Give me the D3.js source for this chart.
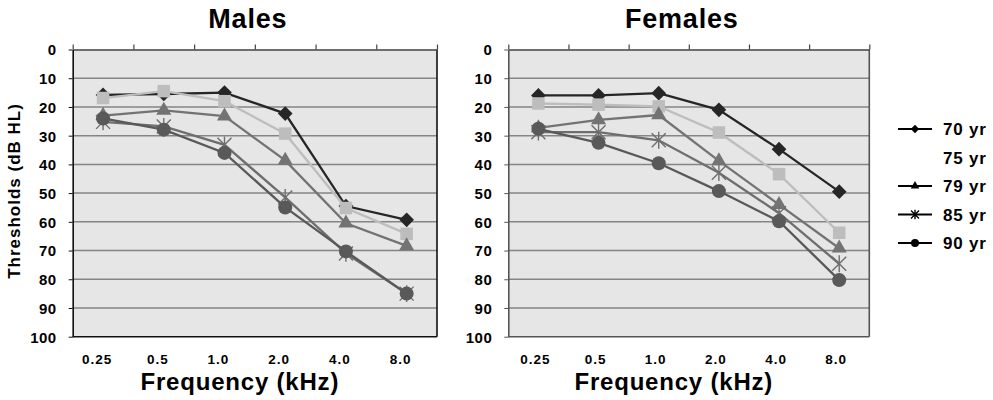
<!DOCTYPE html>
<html lang="en">
<head>
<meta charset="utf-8">
<title>Hearing thresholds by age</title>
<script src="https://cdnjs.cloudflare.com/ajax/libs/d3/7.8.5/d3.min.js"></script>
<style>
  body { margin: 0; background: #fff; }
  svg text { font-family: "Liberation Sans", Arial, sans-serif; font-weight: bold; fill: #000; }
</style>
</head>
<body>
<svg id="chart" width="993" height="400"></svg>
<script>
// data (dB HL, per frequency)
var freqs = ["0.25", "0.5", "1.0", "2.0", "4.0", "8.0"];
var ages = ["70 yr", "75 yr", "79 yr", "85 yr", "90 yr"];
var yTicks = [0, 10, 20, 30, 40, 50, 60, 70, 80, 90, 100];

var males70 = [15.8, 15.5, 15, 22.3, 54.5, 59.3];
var males75 = [16.9, 14.5, 18, 29.3, 55.2, 64.2];
var males79 = [23, 21.2, 23.2, 38.6, 60.5, 68.4];
var males85 = [25.2, 26.8, 33.2, 51.5, 71, 85];
var males90 = [24, 27.9, 36, 55, 70.3, 85];

var females70 = [16, 16, 15.2, 21, 34.7, 49.5];
var females75 = [18.8, 19.2, 19.8, 28.9, 43.4, 63.8];
var females79 = [27.3, 24.5, 22.8, 38.8, 54, 69.2];
var females85 = [28.8, 28.8, 31.6, 42.9, 57, 74.6];
var females90 = [27.6, 32.5, 39.6, 49.3, 59.8, 80.3];

var colors = ["#262626", "#bdbdbd", "#737373", "#6e6e6e", "#595959"];
var shapes = ["diamond", "square", "triangle", "star", "circle"];

var svg = d3.select("#chart");

// marker drawing
function marker(g, shape, x, y, col, s) {
  if (shape == "diamond") {
    g.append("path").attr("d", d3.symbol(d3.symbolSquare, s * s * 0.55)())
      .attr("transform", "translate(" + x + "," + y + ") rotate(45)").attr("fill", col);
  } else if (shape == "square") {
    g.append("path").attr("d", d3.symbol(d3.symbolSquare, s * s * 0.8)())
      .attr("transform", "translate(" + x + "," + y + ")").attr("fill", col);
  } else if (shape == "triangle") {
    g.append("path").attr("d", d3.symbol(d3.symbolTriangle, s * s * 0.5)())
      .attr("transform", "translate(" + x + "," + y + ")").attr("fill", col);
  } else if (shape == "circle") {
    g.append("circle").attr("cx", x).attr("cy", y).attr("r", s / 2).attr("fill", col);
  } else if (shape == "star") {
    var r = s / 2;
    var d = "M" + (-r) + "," + (-r) + "L" + r + "," + r +
            "M" + (-r) + "," + r + "L" + r + "," + (-r) +
            "M0," + (-r * 1.2) + "L0," + (r * 1.2);
    g.append("path").attr("d", d).attr("transform", "translate(" + x + "," + y + ")")
      .attr("stroke", col).attr("stroke-width", 1.4).attr("fill", "none");
  }
}

function panel(cfg) {
  var x = d3.scaleLinear().domain([0, freqs.length]).range([cfg.left, cfg.right]);
  var y = d3.scaleLinear().domain([0, 100]).range([cfg.top, cfg.bottom]);
  var g = svg.append("g");

  g.append("rect")
    .attr("x", cfg.left).attr("y", cfg.top)
    .attr("width", cfg.right - cfg.left).attr("height", cfg.bottom - cfg.top)
    .attr("fill", "#e6e6e6");

  // gridlines
  g.selectAll(".grid").data(yTicks.slice(1, -1)).enter().append("line")
    .attr("x1", cfg.left).attr("x2", cfg.right)
    .attr("y1", d => y(d)).attr("y2", d => y(d))
    .attr("stroke", "#858585").attr("stroke-width", 1.5);

  // frame: right and bottom
  g.append("line").attr("x1", cfg.right).attr("x2", cfg.right)
    .attr("y1", cfg.top).attr("y2", cfg.bottom)
    .attr("stroke", cfg.frame).attr("stroke-width", 1.6);
  g.append("line").attr("x1", cfg.left).attr("x2", cfg.right)
    .attr("y1", cfg.bottom).attr("y2", cfg.bottom)
    .attr("stroke", cfg.frame).attr("stroke-width", 1.6);

  // category axis sits on top (y reversed)
  var top = g.append("g").attr("transform", "translate(0," + cfg.top + ")")
    .call(d3.axisTop(x).tickValues(d3.range(freqs.length + 1)).tickFormat("")
      .tickSize(5).tickSizeOuter(0));
  top.select(".domain").attr("stroke", "#444").attr("stroke-width", 1.5);
  top.selectAll(".tick line").attr("stroke", "#444").attr("stroke-width", 1.2);

  var left = g.append("g").attr("transform", "translate(" + cfg.left + ",0)")
    .call(d3.axisLeft(y).tickValues(yTicks).tickSize(4).tickPadding(12).tickSizeOuter(0));
  left.select(".domain").attr("stroke", cfg.frame).attr("stroke-width", 1.6);
  left.selectAll(".tick line").attr("stroke", cfg.frame);
  left.selectAll(".tick text").style("font-size", "15px").style("letter-spacing", "0.5px")
    .attr("dy", "0.36em");

  // frequency labels under the plot
  g.selectAll(".flab").data(freqs).enter().append("text")
    .attr("x", (d, i) => x(i + 0.5) + cfg.labelShift)
    .attr("y", cfg.bottom + 27)
    .attr("text-anchor", "middle")
    .style("font-size", "13.5px").style("letter-spacing", "1px")
    .text(d => d);

  // series
  var line = d3.line().x((d, i) => x(i + 0.5)).y(d => y(d));
  cfg.series.forEach(function (vals, k) {
    g.append("path").datum(vals).attr("d", line)
      .attr("fill", "none").attr("stroke", colors[k]).attr("stroke-width", 2.3);
    vals.forEach(function (v, i) {
      marker(g, shapes[k], x(i + 0.5), y(v), colors[k], 14);
    });
  });

  // titles
  svg.append("text").attr("x", (cfg.left + cfg.right) / 2 - 7).attr("y", 28)
    .attr("text-anchor", "middle").style("font-size", "27px").style("letter-spacing", "0.8px")
    .text(cfg.title);
  svg.append("text").attr("x", (cfg.left + cfg.right) / 2 - 15).attr("y", 390)
    .attr("text-anchor", "middle").style("font-size", "24px").style("letter-spacing", "0.8px")
    .text("Frequency (kHz)");
}

panel({ title: "Males", left: 72.7, right: 437, top: 49.5, bottom: 336.7, frame: "#111",
        labelShift: -6, series: [males70, males75, males79, males85, males90] });
panel({ title: "Females", left: 508.3, right: 869.3, top: 49.5, bottom: 336.7, frame: "#555",
        labelShift: -3, series: [females70, females75, females79, females85, females90] });

// y axis title
svg.append("text").attr("transform", "translate(20,191) rotate(-90)")
  .attr("text-anchor", "middle").style("font-size", "17px").style("letter-spacing", "1px")
  .text("Thresholds (dB HL)");

// legend
var legY = d3.scalePoint().domain(ages).range([129, 243]);
var leg = svg.append("g");
ages.forEach(function (a, k) {
  var yy = legY(a);
  if (k != 1) {
    leg.append("line").attr("x1", 898).attr("x2", 932).attr("y1", yy).attr("y2", yy)
      .attr("stroke", "#000").attr("stroke-width", 2);
    marker(leg, shapes[k], 915, yy, "#000", 8);
  }
  leg.append("text").attr("x", 943).attr("y", yy).attr("dy", "0.36em")
    .style("font-size", "17px").style("letter-spacing", "0.8px").text(a);
});
</script>
</body>
</html>
